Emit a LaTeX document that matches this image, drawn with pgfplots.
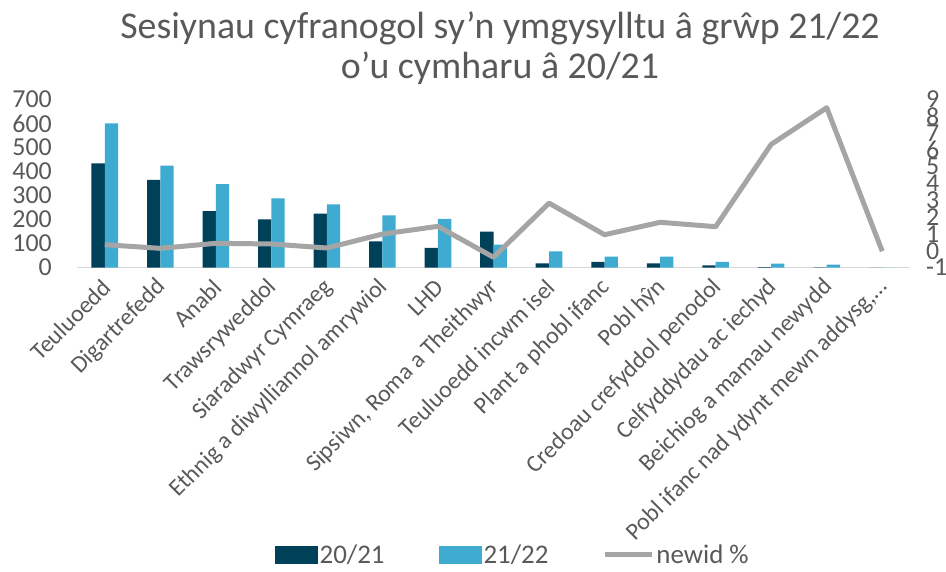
\documentclass[border=0pt]{standalone}
\usepackage{pgfplots}
\pgfplotsset{compat=1.18}
\usepackage{fontspec}
\setmainfont{Carlito}
\definecolor{dk}{HTML}{00415A}
\definecolor{lt}{HTML}{3FABD1}
\definecolor{ln}{HTML}{A5A5A5}
\definecolor{tx}{HTML}{595959}
\definecolor{axc}{HTML}{D9D9D9}
\pgfplotstableread{
x a b c
0 434 601 0.36
1 365 424 0.14
2 235 347 0.44
3 201 288 0.40
4 224 263 0.16
5 109 217 0.99
6 82 203 1.45
7 149 95 -0.39
8 17 67 2.83
9 23 45 0.95
10 17 45 1.69
11 9 23 1.43
12 2 16 6.33
13 1 12 8.51
14 0 0 -0.03
}\data
\begin{document}
\begin{tikzpicture}
\useasboundingbox (0bp,0bp) rectangle (946bp,572bp);
\node[anchor=base, text=tx, font=\fontsize{38}{40}\selectfont, inner sep=0] at (500bp,533bp) {Sesiynau cyfranogol sy’n ymgysylltu â grŵp 21/22};
\node[anchor=base, text=tx, font=\fontsize{38}{40}\selectfont, inner sep=0] at (500bp,493bp) {o’u cymharu â 20/21};
\begin{axis}[
  at={(77bp,304.5bp)}, anchor=south west, scale only axis,
  width=833bp, height=168bp,
  xmin=-0.5, xmax=14.5, ymin=0, ymax=700,
  ybar=0pt, bar width=13.3bp,
  xtick={0,1,2,3,4,5,6,7,8,9,10,11,12,13,14},
  xticklabels={Teuluoedd,Digartrefedd,Anabl,Trawsryweddol,Siaradwyr Cymraeg,Ethnig a diwylliannol amrywiol,LHD,{Sipsiwn, Roma a Theithwyr},Teuluoedd incwm isel,Plant a phobl ifanc,Pobl hŷn,Credoau crefyddol penodol,Celfyddydau ac iechyd,Beichiog a mamau newydd,{Pobl ifanc nad ydynt mewn addysg,…}},
  x tick label style={xshift=2bp, yshift=-16bp, rotate=45, anchor=east, inner sep=0pt, font=\fontsize{24}{24}\selectfont, text=tx},
  ytick={0,100,200,300,400,500,600,700},
  yticklabels={0,100,200,300,400,500,600,700},
  y tick label style={anchor=east, inner sep=0pt, xshift=-25bp, font=\fontsize{26}{26}\selectfont, text=tx},
  major tick length=0pt,
  axis x line*=bottom, axis y line*=left,
  x axis line style={draw=axc, line width=1.5bp, -},
  y axis line style={draw=none},
  legend style={at={(0.523,-1.711)}, anchor=center, legend columns=3, draw=none, fill=none,
    font=\fontsize{27}{27}\selectfont, text=tx,
    /tikz/every even column/.append style={column sep=52bp}},
]
\addplot[fill=dk, draw=none, legend image code/.code={\fill[dk] (0bp,-9bp) rectangle (43bp,9bp);}] table[x=x,y=a] {\data};
\addlegendentry{20/21}
\addplot[fill=lt, draw=none, legend image code/.code={\fill[lt] (0bp,-9bp) rectangle (43bp,9bp);}] table[x=x,y=b] {\data};
\addlegendentry{21/22}
\addlegendimage{ln, line width=5bp, legend image code/.code={\draw[ln, line width=5bp] (0bp,0bp) -- (47bp,0bp);}}
\addlegendentry{newid \%}
\end{axis}
\begin{axis}[
  at={(77bp,304.5bp)}, anchor=south west, scale only axis,
  width=833bp, height=168bp,
  xmin=-0.5, xmax=14.5, ymin=-1, ymax=9,
  axis x line=none, axis y line*=right,
  y axis line style={draw=none},
  major tick length=0pt,
  ytick={-1,0,1,2,3,4,5,6,7,8,9},
  yticklabels={-1,0,1,2,3,4,5,6,7,8,9},
  y tick label style={anchor=west, inner sep=0pt, xshift=16bp, font=\fontsize{26}{26}\selectfont, text=tx},
]
\addplot[ln, line width=5bp, line join=round, mark=none] table[x=x,y=c] {\data};
\end{axis}
\end{tikzpicture}
\end{document}
